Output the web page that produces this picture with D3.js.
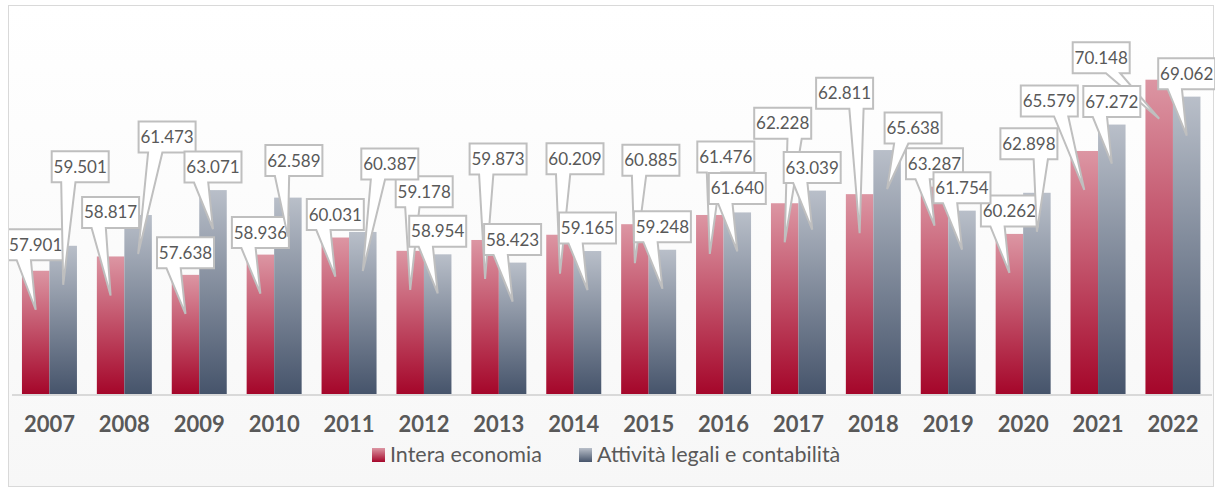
<!DOCTYPE html>
<html>
<head>
<meta charset="utf-8">
<script src="https://cdn.jsdelivr.net/npm/d3@7"></script>
<style>
  body { margin: 0; background: #fff; }
  svg { display: block; }
  text { font-family: Lato, "Open Sans", sans-serif; fill: #595959; }
</style>
</head>
<body>
<svg id="chart" width="1215" height="489"></svg>
<script>
const years = ["2007", "2008", "2009", "2010", "2011", "2012", "2013", "2014",
  "2015", "2016", "2017", "2018", "2019", "2020", "2021", "2022"];
const seriesNames = ["Intera economia", "Attività legali e contabilità"];
const interaEconomia = [57901, 58817, 57638, 58936, 60031, 59178, 59873, 60209,
  60885, 61476, 62228, 62811, 63287, 60262, 65579, 70148];
const attivitaLegali = [59501, 61473, 63071, 62589, 60387, 58954, 58423, 59165,
  59248, 61640, 63039, 65638, 61754, 62898, 67272, 69062];
const valueDomain = [50000, 75000];

// callout box centre, relative to the pointer tip (hand placed, like the original)
const redOffsets = [[0, -65], [0, -83], [0, -61], [0, -61], [0, -62], [14, -98], [13, -120], [15, -115],
  [16, -103], [16, -97], [-2, -119], [-15, -140], [0, -62], [0, -62], [-35, -89], [-58, -61]];
const greyOffsets = [[17, -118], [29, -117], [0, -62], [6, -76], [27, -107], [0, -62], [0, -62], [0, -62],
  [0, -62], [0, -63], [0, -62], [26, -61], [0, -62], [-8, -88], [0, -62], [0, -62]];

const W = 1215, H = 489;
const plot = { left: 12, right: 1210.4, top: 4, bottom: 394 };
const boxW = 57, boxH = 31, tipDrop = 39;

const it = d3.formatLocale({ decimal: ",", thousands: ".", grouping: [3], currency: ["€", ""] });
const fmt = it.format(",d");

const svg = d3.select("#chart");
const defs = svg.append("defs");

function vGrad(id, top, bottom) {
  const g = defs.append("linearGradient").attr("id", id)
    .attr("x1", 0).attr("y1", 0).attr("x2", 0).attr("y2", 1);
  g.append("stop").attr("offset", "0%").attr("stop-color", top);
  g.append("stop").attr("offset", "100%").attr("stop-color", bottom);
}
vGrad("bg", "#ffffff", "#f7f7f7");
vGrad("redGrad", "#dc96a3", "#a5062a");
vGrad("greyGrad", "#b9bfc9", "#46546b");

defs.append("clipPath").attr("id", "clip")
  .append("rect").attr("x", 9).attr("y", 5).attr("width", W - 9).attr("height", H - 5);

// background + frame
svg.append("rect")
  .attr("x", 8.5).attr("y", 5.5).attr("width", W - 10).attr("height", H - 8)
  .attr("fill", "url(#bg)").attr("stroke", "#d9d9d9").attr("stroke-width", 1);

const x = d3.scaleBand().domain(years)
  .range([plot.left, plot.right])
  .paddingInner(0.2657).paddingOuter(0.13285);
const xs = d3.scaleBand().domain([0, 1]).range([0, x.bandwidth()]);
const y = d3.scaleLinear().domain(valueDomain).range([plot.bottom, plot.top]);

const series = [
  { values: interaEconomia, fill: "url(#redGrad)", offsets: redOffsets },
  { values: attivitaLegali, fill: "url(#greyGrad)", offsets: greyOffsets }
];

// bars
const groups = svg.append("g").selectAll("g")
  .data(years)
  .join("g")
  .attr("transform", d => `translate(${x(d)},0)`);

groups.selectAll("rect")
  .data((d, i) => series.map((s, k) => ({ k, v: s.values[i], fill: s.fill })))
  .join("rect")
  .attr("x", d => xs(d.k))
  .attr("width", xs.bandwidth())
  .attr("y", d => y(d.v))
  .attr("height", d => plot.bottom - y(d.v))
  .attr("fill", d => d.fill);

// x axis
const xAxis = svg.append("g")
  .attr("transform", `translate(0,${plot.bottom})`)
  .call(d3.axisBottom(x).tickSize(0).tickPadding(0));
xAxis.select(".domain").attr("stroke", "#d9d9d9").attr("stroke-width", 2)
  .attr("d", `M${plot.left},1H${W - 3}`);
xAxis.selectAll(".tick text")
  .attr("y", 38).attr("dy", 0)
  .style("font-family", "Lato, sans-serif")
  .style("font-size", "22px").style("font-weight", "bold")
  .attr("fill", "#595959");

// callouts (wedgeRectCallout geometry)
function calloutPath(cx, cy, tx, ty) {
  const l = cx - boxW / 2, r = cx + boxW / 2, t = cy - boxH / 2, b = cy + boxH / 2;
  const dx = tx - cx, dy = ty - cy;
  const dz = Math.abs(dy) - Math.abs(dx * boxH / boxW);
  const xa = l + boxW * (dx > 0 ? 7 : 2) / 12, xb = l + boxW * (dx > 0 ? 10 : 5) / 12;
  const ya = t + boxH * (dy > 0 ? 7 : 2) / 12, yb = t + boxH * (dy > 0 ? 10 : 5) / 12;
  const p = d3.path();
  p.moveTo(l, t);
  if (dz > 0 && dy < 0) { p.lineTo(xa, t); p.lineTo(tx, ty); p.lineTo(xb, t); }
  p.lineTo(r, t);
  if (dz <= 0 && dx > 0) { p.lineTo(r, ya); p.lineTo(tx, ty); p.lineTo(r, yb); }
  p.lineTo(r, b);
  if (dz > 0 && dy > 0) { p.lineTo(xb, b); p.lineTo(tx, ty); p.lineTo(xa, b); }
  p.lineTo(l, b);
  if (dz <= 0 && dx < 0) { p.lineTo(l, yb); p.lineTo(tx, ty); p.lineTo(l, ya); }
  p.closePath();
  return p.toString();
}

const labelLayer = svg.append("g").attr("clip-path", "url(#clip)");
series.forEach((s, k) => {
  const items = years.map((yr, i) => {
    const tx = x(yr) + xs(k) + xs.bandwidth() / 2;
    const ty = y(s.values[i]) + tipDrop;
    return { tx, ty, cx: tx + s.offsets[i][0], cy: ty + s.offsets[i][1], v: s.values[i] };
  });
  const g = labelLayer.append("g").selectAll("g").data(items).join("g");
  g.append("path")
    .attr("d", d => calloutPath(d.cx, d.cy, d.tx, d.ty))
    .attr("fill", "#fff").attr("stroke", "#bfbfbf").attr("stroke-width", 2)
    .attr("stroke-linejoin", "miter");
  g.append("text")
    .attr("x", d => d.cx).attr("y", d => d.cy + 6)
    .attr("text-anchor", "middle")
    .style("font-size", "17px")
    .text(d => fmt(d.v));
});

// legend
const legend = svg.append("g");
const legendItems = [
  { name: seriesNames[0], fill: "url(#redGrad)", x: 372 },
  { name: seriesNames[1], fill: "url(#greyGrad)", x: 579 }
];
const li = legend.selectAll("g").data(legendItems).join("g")
  .attr("transform", d => `translate(${d.x},448)`);
li.append("rect").attr("width", 13).attr("height", 14).attr("fill", d => d.fill);
li.append("text").attr("x", 18).attr("y", 14)
  .style("font-size", "21.5px")
  .text(d => d.name);
</script>
</body>
</html>
